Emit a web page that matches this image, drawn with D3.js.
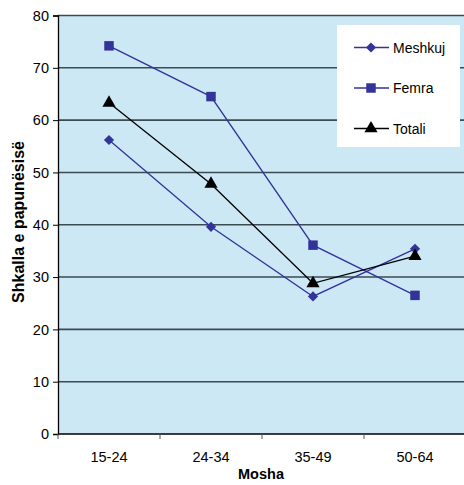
<!DOCTYPE html>
<html>
<head>
<meta charset="utf-8">
<script src="https://cdn.jsdelivr.net/npm/d3@7"></script>
<style>
  body { margin: 0; background: #fff; }
  text { font-family: "Liberation Sans", Arial, sans-serif; }
</style>
</head>
<body>
<svg id="chart" width="464" height="485"></svg>
<script>
// age groups
var categories = ["15-24", "24-34", "35-49", "50-64"];
var yTicks = [0, 10, 20, 30, 40, 50, 60, 70, 80];

// unemployment rate per group
var meshkuj = [56.2, 39.6, 26.3, 35.4];
var femra = [74.2, 64.5, 36.1, 26.5];
var totali = [63.3, 47.8, 28.8, 34.0];

// diamond = square turned 45 degrees
var series = [
  { name: "Meshkuj", values: meshkuj, color: "#333399", symbol: d3.symbolSquare, size: 52, rot: 45 },
  { name: "Femra", values: femra, color: "#333399", symbol: d3.symbolSquare, size: 90, rot: 0 },
  { name: "Totali", values: totali, color: "#000000", symbol: d3.symbolTriangle, size: 75, rot: 0 }
];

var svg = d3.select("#chart");
var pLeft = 58, pTop = 15.5, pRight = 466, pBottom = 434;

var x = d3.scaleBand().domain(categories).range([pLeft, pRight]);
var y = d3.scaleLinear().domain([0, 80]).range([pBottom, pTop]);

function cx(i) { return x(categories[i]) + x.bandwidth() / 2; }

// plot background
svg.append("rect")
  .attr("x", pLeft).attr("y", pTop)
  .attr("width", pRight - pLeft).attr("height", pBottom - pTop)
  .attr("fill", "#cbe8f4");

// gridlines
svg.append("g").selectAll("line")
  .data(yTicks.filter(function(d) { return d > 0; }))
  .enter().append("line")
  .attr("x1", pLeft).attr("x2", pRight)
  .attr("y1", function(d) { return y(d); })
  .attr("y2", function(d) { return y(d); })
  .attr("stroke", "#3c4a52")
  .attr("stroke-width", 1.6);

// y axis
var yAxis = svg.append("g")
  .attr("transform", "translate(" + pLeft + ",0)")
  .call(d3.axisLeft(y).tickValues(yTicks).tickSize(5).tickPadding(4));
yAxis.select(".domain").attr("stroke", "#000").attr("stroke-width", 1.3);
yAxis.selectAll("line").attr("stroke", "#000");
yAxis.selectAll("text").attr("font-size", 14.5).attr("fill", "#000")
  .attr("font-family", "Liberation Sans, Arial, sans-serif");

// x axis with ticks between categories
var xAxis = svg.append("g").attr("transform", "translate(0," + pBottom + ")");
xAxis.append("line").attr("x1", pLeft).attr("x2", pRight).attr("stroke", "#000").attr("stroke-width", 1.5);
xAxis.selectAll(".tk")
  .data(categories)
  .enter().append("line")
  .attr("x1", function(d) { return x(d); })
  .attr("x2", function(d) { return x(d); })
  .attr("y1", 0).attr("y2", 5)
  .attr("stroke", "#555");
xAxis.selectAll(".lbl")
  .data(categories)
  .enter().append("text")
  .attr("x", function(d) { return x(d) + x.bandwidth() / 2; })
  .attr("y", 28)
  .attr("text-anchor", "middle")
  .attr("font-size", 14.5)
  .text(function(d) { return d; });

// axis titles
svg.append("text")
  .attr("x", 261).attr("y", 479)
  .attr("text-anchor", "middle")
  .attr("font-size", 14.5).attr("font-weight", "bold")
  .text("Mosha");
svg.append("text")
  .attr("transform", "translate(24,222) rotate(-90)")
  .attr("text-anchor", "middle")
  .attr("font-size", 16).attr("font-weight", "bold")
  .text("Shkalla e papunësisë");

// lines and markers
var line = d3.line()
  .x(function(d, i) { return cx(i); })
  .y(function(d) { return y(d); });

series.forEach(function(s) {
  svg.append("path")
    .attr("d", line(s.values))
    .attr("fill", "none")
    .attr("stroke", s.color)
    .attr("stroke-width", 1.3);
  svg.append("g").selectAll("path")
    .data(s.values)
    .enter().append("path")
    .attr("transform", function(d, i) {
      return "translate(" + cx(i) + "," + y(d) + ") rotate(" + s.rot + ")";
    })
    .attr("d", d3.symbol().type(s.symbol).size(s.size))
    .attr("fill", s.color);
});

// legend
var legend = svg.append("g");
legend.append("rect")
  .attr("x", 337).attr("y", 25)
  .attr("width", 123).attr("height", 122)
  .attr("fill", "#fff");
series.forEach(function(s, i) {
  var ly = 47.5 + i * 40.5;
  legend.append("line")
    .attr("x1", 354).attr("x2", 389)
    .attr("y1", ly).attr("y2", ly)
    .attr("stroke", s.color).attr("stroke-width", 1.3);
  legend.append("path")
    .attr("transform", "translate(371," + ly + ") rotate(" + s.rot + ")")
    .attr("d", d3.symbol().type(s.symbol).size(s.size))
    .attr("fill", s.color);
  legend.append("text")
    .attr("x", 393).attr("y", ly + 5)
    .attr("font-size", 14)
    .text(s.name);
});
</script>
</body>
</html>
